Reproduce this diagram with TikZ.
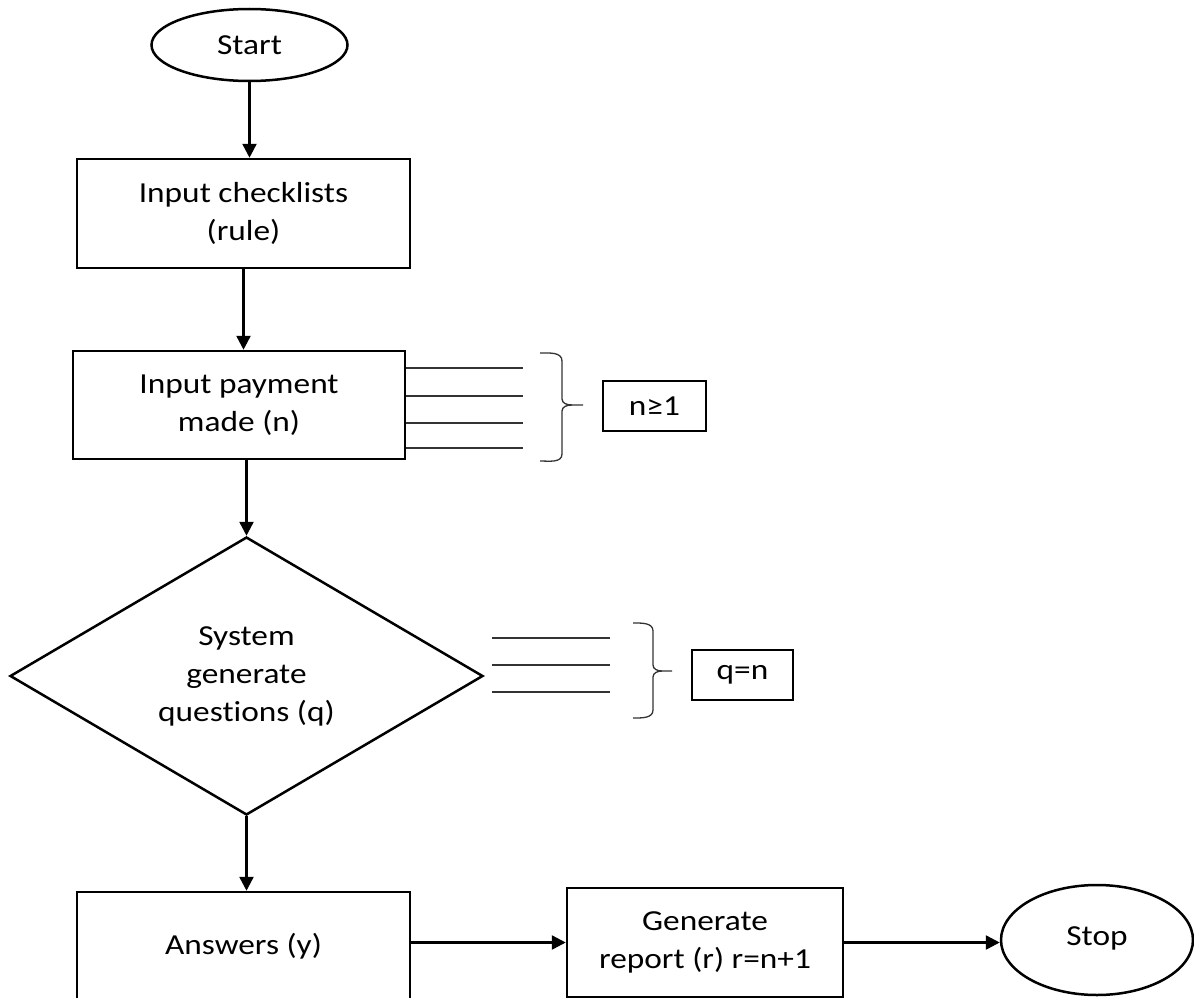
\documentclass[tikz,border=0pt]{standalone}
\usepackage{fontspec}
\setmainfont[FakeStretch=1.15, Ligatures=NoCommon]{Carlito}
\usetikzlibrary{shapes.geometric,arrows.meta}
\begin{document}
\begin{tikzpicture}[x=1pt,y=-1pt,
  every node/.style={font=\fontsize{29}{38}\selectfont, align=center, inner sep=0pt},
  box/.style={draw, line width=2.5pt, rectangle},
  oval/.style={draw, line width=2.5pt, ellipse},
  dia/.style={draw, line width=2.5pt, diamond},
  arr/.style={line width=2.5pt, -{Triangle[width=14pt,length=14pt]}},
  thin/.style={line width=1.3pt, draw=black!80},
  brace/.style={line width=1.3pt, draw=black!80},
  small/.style={draw, line width=1.3pt, rectangle}]
\useasboundingbox (0,0) rectangle (1194,998);
\clip (0,0) rectangle (1194,998);

% main nodes
\node[oval, minimum width=196pt, minimum height=72pt] (start) at (249.5,45) {Start};
\node[box, minimum width=333pt, minimum height=109pt] (in1) at (243.5,213.5) {Input checklists\\(rule)};
\node[box, minimum width=332pt, minimum height=108pt] (in2) at (239,405) {Input payment\\made (n)};
\node[dia, aspect=1.7, minimum width=473pt, minimum height=278pt] (gq) at (246.5,676) {System\\generate\\questions (q)};
\node[box, minimum width=333pt, minimum height=118pt] (ans) at (243.5,951) {\raisebox{14pt}{Answers (y)}};
\node[box, minimum width=276pt, minimum height=109pt] (gen) at (705,942.5) {Generate\\report (r) r=n+1};
\node[oval, minimum width=192pt, minimum height=110pt] (stop) at (1097,940) {\raisebox{7pt}{Stop}};

% side boxes
\node[small, minimum width=103pt, minimum height=50pt] (cond1) at (654.5,406) {n≥1};
\node[small, minimum width=101pt, minimum height=50pt] (cond2) at (742.5,675) {q=n};

% connectors
\draw[arr] (start.south) -- (start.south |- in1.north);
\draw[arr] (in1.south) -- (in1.south |- in2.north);
\draw[arr] (gq.north |- in2.south) -- (gq.north);
\draw[arr] (gq.south) -- (gq.south |- ans.north);
\draw[arr] (ans.east |- gen.west) -- (gen.west);
\draw[arr] (gen.east) -- (gen.east -| stop.west);

% lines from input payment
\foreach \yy in {368,396,423,448} {
  \draw[thin] (in2.east |- 0,\yy) -- (523,\yy);
}
% brace 1
\coordinate (b1tip) at (583,405);
\draw[brace] (540,353) to[out=0,in=90] (562,361) -- (562,399) to[out=-90,in=180] (572,405) -- (b1tip);
\draw[brace] (572,405) to[out=180,in=90] (562,411) -- (562,454) to[out=-90,in=0] (540,461);

% lines from diamond
\foreach \yy in {638,665,692} {
  \draw[thin] (492,\yy) -- (610,\yy);
}
% brace 2
\coordinate (b2tip) at (672,671);
\draw[brace] (633,623) to[out=0,in=90] (653,631) -- (653,665) to[out=-90,in=180] (662,671) -- (b2tip);
\draw[brace] (662,671) to[out=180,in=90] (653,677) -- (653,710) to[out=-90,in=0] (633,718);
\end{tikzpicture}
\end{document}
